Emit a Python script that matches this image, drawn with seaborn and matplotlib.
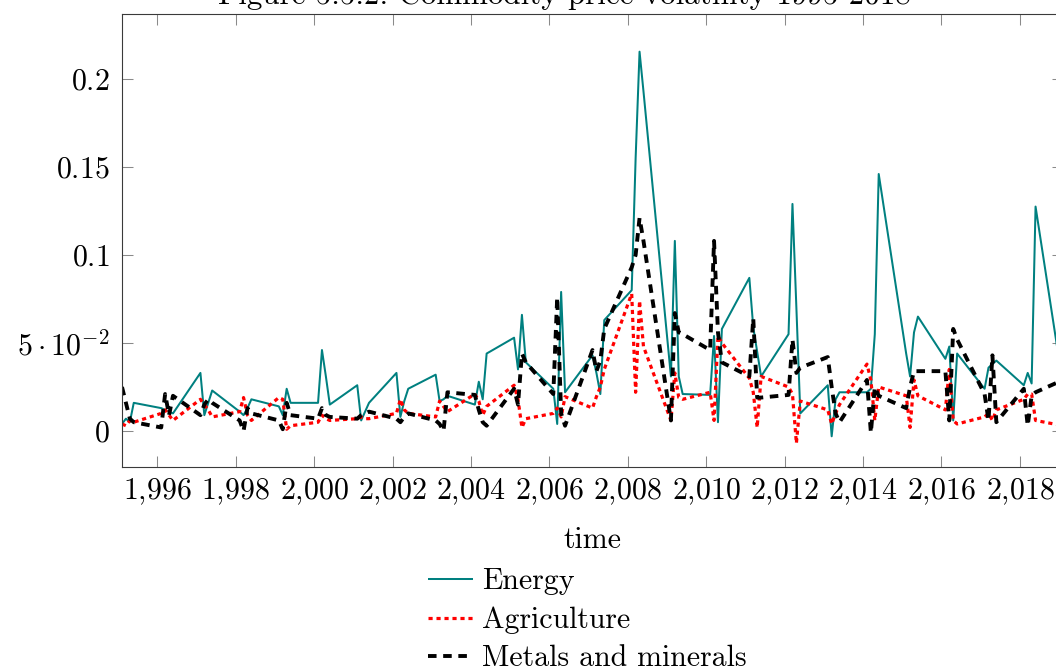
import matplotlib
matplotlib.use("Agg")
import matplotlib.pyplot as plt
import seaborn as sns
from matplotlib.ticker import FixedLocator, FuncFormatter

# Quarterly periods, written as year.quarter
years = list(range(1995, 2019))
quarters = [1, 2, 3, 4]
period = [y + q / 10 for y in years for q in quarters] + [2019.1]

energy = [
    0.004, 0.007, 0.005, 0.016,
    0.013, 0.012, 0.011, 0.010,
    0.033, 0.009, 0.016, 0.023,
    0.011, 0.009, 0.013, 0.018,
    0.014, 0.009, 0.024, 0.016,
    0.016, 0.046, 0.031, 0.015,
    0.026, 0.006, 0.011, 0.016,
    0.033, 0.008, 0.017, 0.024,
    0.032, 0.017, 0.018, 0.020,
    0.015, 0.028, 0.018, 0.044,
    0.053, 0.035, 0.066, 0.039,
    0.024, 0.004, 0.079, 0.022,
    0.043, 0.033, 0.021, 0.063,
    0.080, 0.155, 0.2155, 0.193,
    0.031, 0.108, 0.031, 0.021,
    0.0205, 0.054, 0.005, 0.058,
    0.087, 0.059, 0.045, 0.031,
    0.055, 0.129, 0.070, 0.010,
    0.026, -0.003, 0.018, 0.022,
    0.022, 0.024, 0.055, 0.146,
    0.044, 0.031, 0.056, 0.065,
    0.041, 0.048, 0.006, 0.044,
    0.024, 0.036, 0.038, 0.040,
    0.026, 0.033, 0.027, 0.1275,
    0.026,
]

agriculture = [
    0.004, 0.003, 0.006, 0.005,
    0.010, 0.012, 0.009, 0.006,
    0.018, 0.015, 0.012, 0.008,
    0.011, 0.019, 0.009, 0.006,
    0.019, 0.018, 0.001, 0.003,
    0.005, 0.009, 0.007, 0.006,
    0.007, 0.008, 0.007, 0.007,
    0.010, 0.018, 0.012, 0.010,
    0.008, 0.017, 0.014, 0.011,
    0.021, 0.017, 0.009, 0.014,
    0.026, 0.018, 0.002, 0.007,
    0.010, 0.013, 0.008, 0.0195,
    0.013, 0.0195, 0.025, 0.035,
    0.078, 0.022, 0.074, 0.048,
    0.006, 0.033, 0.019, 0.018,
    0.022, 0.006, 0.054, 0.050,
    0.030, 0.022, 0.002, 0.031,
    0.025, 0.021, -0.007, 0.017,
    0.012, 0.004, 0.010, 0.015,
    0.038, 0.029, 0.006, 0.025,
    0.020, 0.002, 0.029, 0.020,
    0.012, 0.035, 0.006, 0.004,
    0.008, 0.010, 0.006, 0.012,
    0.018, 0.021, 0.021, 0.006,
    0.003,
]

metals = [
    0.025, 0.016, 0.007, 0.005,
    0.002, 0.021, 0.009, 0.020,
    0.009, 0.015, 0.018, 0.016,
    0.006, 0.000, 0.013, 0.010,
    0.006, 0.001, 0.016, 0.009,
    0.007, 0.013, 0.009, 0.008,
    0.007, 0.009, 0.010, 0.011,
    0.007, 0.005, 0.008, 0.010,
    0.006, 0.004, 0.000, 0.022,
    0.0205, 0.012, 0.005, 0.003,
    0.024, 0.015, 0.044, 0.039,
    0.021, 0.076, 0.010, 0.003,
    0.046, 0.034, 0.040, 0.058,
    0.093, 0.100, 0.121, 0.108,
    0.006, 0.067, 0.056, 0.055,
    0.046, 0.108, 0.056, 0.039,
    0.031, 0.064, 0.019, 0.019,
    0.0205, 0.052, 0.033, 0.036,
    0.042, 0.025, 0.010, 0.005,
    0.029, -0.001, 0.025, 0.020,
    0.013, 0.025, 0.034, 0.034,
    0.034, 0.006, 0.058, 0.052,
    0.021, 0.006, 0.043, 0.005,
    0.024, 0.003, 0.020, 0.022,
    0.029,
]

series_names = ["Energy", "Agriculture", "Metals and minerals"]
x_ticks = list(range(1996, 2019, 2))
y_ticks = [0, 0.05, 0.1, 0.15, 0.2]
y_tick_labels = ["$0$", r"$5\cdot10^{-2}$", "$0.1$", "$0.15$", "$0.2$"]
title = "Figure 5.5.2: Commodity price volatility 1995-2018"
x_label = "time"

FS = 21.5
plt.rcParams.update({
    "font.family": "cmr10",
    "mathtext.fontset": "cm",
    "axes.formatter.use_mathtext": True,
    "lines.dash_capstyle": "butt",
    "lines.solid_capstyle": "butt",
})

fig = plt.figure(figsize=(10.56, 6.67), dpi=100)
W, H = 1056, 667
ax = fig.add_axes([122 / W, 1 - 467 / H, 941 / W, 453 / H])

styles = {
    "Energy": dict(color="#008080", linewidth=1.45, linestyle="-"),
    "Agriculture": dict(color="#ff0000", linewidth=2.3, linestyle=(0, (1.3, 1.2))),
    "Metals and minerals": dict(color="black", linewidth=2.8, linestyle=(0, (2.2, 1.7))),
}

for name, values in zip(series_names, [energy, agriculture, metals]):
    sns.lineplot(x=period, y=values, ax=ax, label=name, estimator=None,
                 sort=False, **styles[name])

ax.set_xlim(1995.1, 2019.1)
ax.set_ylim(-0.02045, 0.2369)


def year_label(v, pos):
    return "$" + f"{int(round(v)):,}".replace(",", "{,}") + "$"


ax.xaxis.set_major_locator(FixedLocator(x_ticks))
ax.xaxis.set_major_formatter(FuncFormatter(year_label))
ax.set_yticks(y_ticks)
ax.set_yticklabels(y_tick_labels)

for side in ["left", "right", "top", "bottom"]:
    ax.spines[side].set_color("#3a3a3a")
    ax.spines[side].set_linewidth(0.8)

ax.tick_params(axis="both", which="major", direction="in", length=8,
               width=0.75, color="#8a8a8a", top=True, right=True,
               labelsize=FS)
ax.tick_params(axis="y", pad=9.0)
ax.tick_params(axis="x", pad=7.0)

ax.set_xlabel(x_label, fontsize=FS)
ax.xaxis.set_label_coords(0.5, -(540 - 467) / 453)
ax.xaxis.label.set_va("center")
ax.set_ylabel("")

handles, labels = ax.get_legend_handles_labels()
ax.get_legend().remove()
fig.legend(handles, labels, loc="upper left",
           bbox_to_anchor=(428 / W, 1 - 568 / H), frameon=False,
           fontsize=FS, handlelength=1.5, handletextpad=0.3,
           labelspacing=0.37, borderpad=0, borderaxespad=0)

fig.text(564 / W, 1 - 4 / H, title, ha="center", va="baseline", fontsize=22.3)

fig.savefig("out.png", dpi=100)
